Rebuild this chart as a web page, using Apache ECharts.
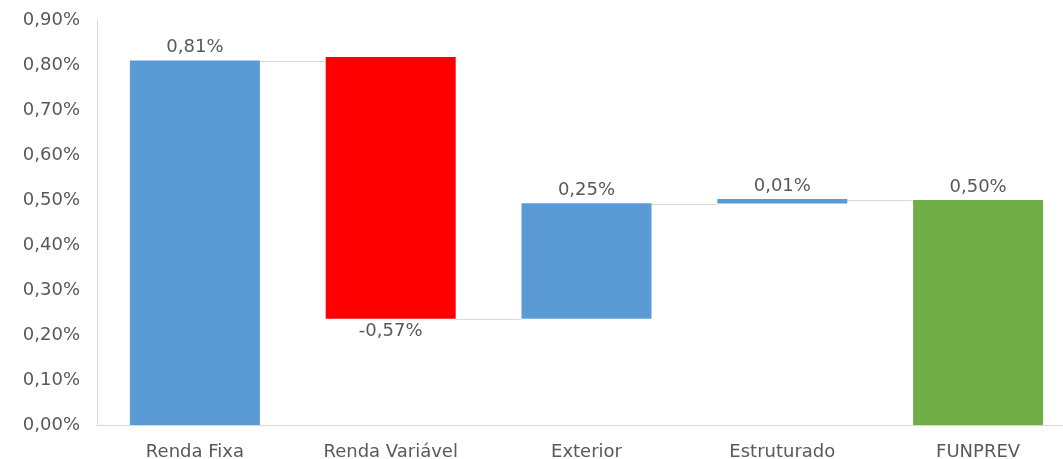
<!DOCTYPE html>
<html><head><meta charset="utf-8">
<script src="https://cdn.jsdelivr.net/npm/echarts@6/dist/echarts.min.js"></script>
<style>html,body{margin:0;padding:0;background:#fff}#c{width:1063px;height:459px}</style>
</head><body><div id="c"></div>
<script>
const categories = ['Renda Fixa', 'Renda Variável', 'Exterior', 'Estruturado', 'FUNPREV'];
const barLow  = [0, 0.236, 0.236, 0.492, 0];
const barHigh = [0.81, 0.818, 0.493, 0.502, 0.50];
const valueLabels = ['0,81%', '-0,57%', '0,25%', '0,01%', '0,50%'];
const connectorLevels = [0.81, 0.236, 0.492, 0.50];
const barColors = ['#5B9BD5', '#FF0000', '#5B9BD5', '#5B9BD5', '#70AD47'];
const labelBelow = [false, true, false, false, false];
const yTicks = [0, 0.1, 0.2, 0.3, 0.4, 0.5, 0.6, 0.7, 0.8, 0.9];

const FONT = 'DejaVu Sans';
const TXT = '#595959';
const BARW = 130;
const FS = 18;

const chart = echarts.init(document.getElementById('c'), null, {renderer: 'canvas'});
chart.setOption({
  animation: false,
  backgroundColor: '#fff',
  grid: {left: 97, right: -13, top: 20, bottom: 34, containLabel: false, outerBoundsMode: 'none'},
  xAxis: {
    type: 'category', data: categories,
    axisLine: {lineStyle: {color: '#d9d9d9', width: 1}},
    axisTick: {show: false},
    axisLabel: {color: TXT, fontFamily: FONT, fontSize: FS, margin: 18}
  },
  yAxis: {
    type: 'value', min: 0, max: 0.9, interval: 0.1,
    axisLine: {show: true, lineStyle: {color: '#d9d9d9', width: 1}},
    axisTick: {show: false},
    splitLine: {show: false},
    axisLabel: {color: TXT, fontFamily: FONT, fontSize: FS, margin: 17,
      formatter: v => v.toFixed(2).replace('.', ',') + '%'}
  },
  series: [
    {type: 'bar', stack: 'w', barWidth: BARW, silent: true,
     itemStyle: {color: 'transparent'},
     data: barLow},
    {type: 'bar', stack: 'w', barWidth: BARW,
     data: barHigh.map((h, i) => ({
       value: h - barLow[i],
       itemStyle: {color: barColors[i]},
       label: {show: true, position: labelBelow[i] ? 'bottom' : 'top',
         distance: 4, color: TXT, fontFamily: FONT, fontSize: FS,
         formatter: () => valueLabels[i]}
     }))},
    {type: 'custom', silent: true, z: 1,
     data: connectorLevels.map((lv, i) => [i, lv]),
     renderItem: (params, api) => {
       const i = api.value(0), lv = api.value(1);
       const p1 = api.coord([i, lv]);
       const p2 = api.coord([i + 1, lv]);
       const y = Math.round(p1[1]) + 0.5;
       return {type: 'line',
         shape: {x1: p1[0] + BARW / 2, y1: y, x2: p2[0] - BARW / 2, y2: y},
         style: {stroke: '#d9d9d9', lineWidth: 1}};
     }}
  ]
});
</script></body></html>
